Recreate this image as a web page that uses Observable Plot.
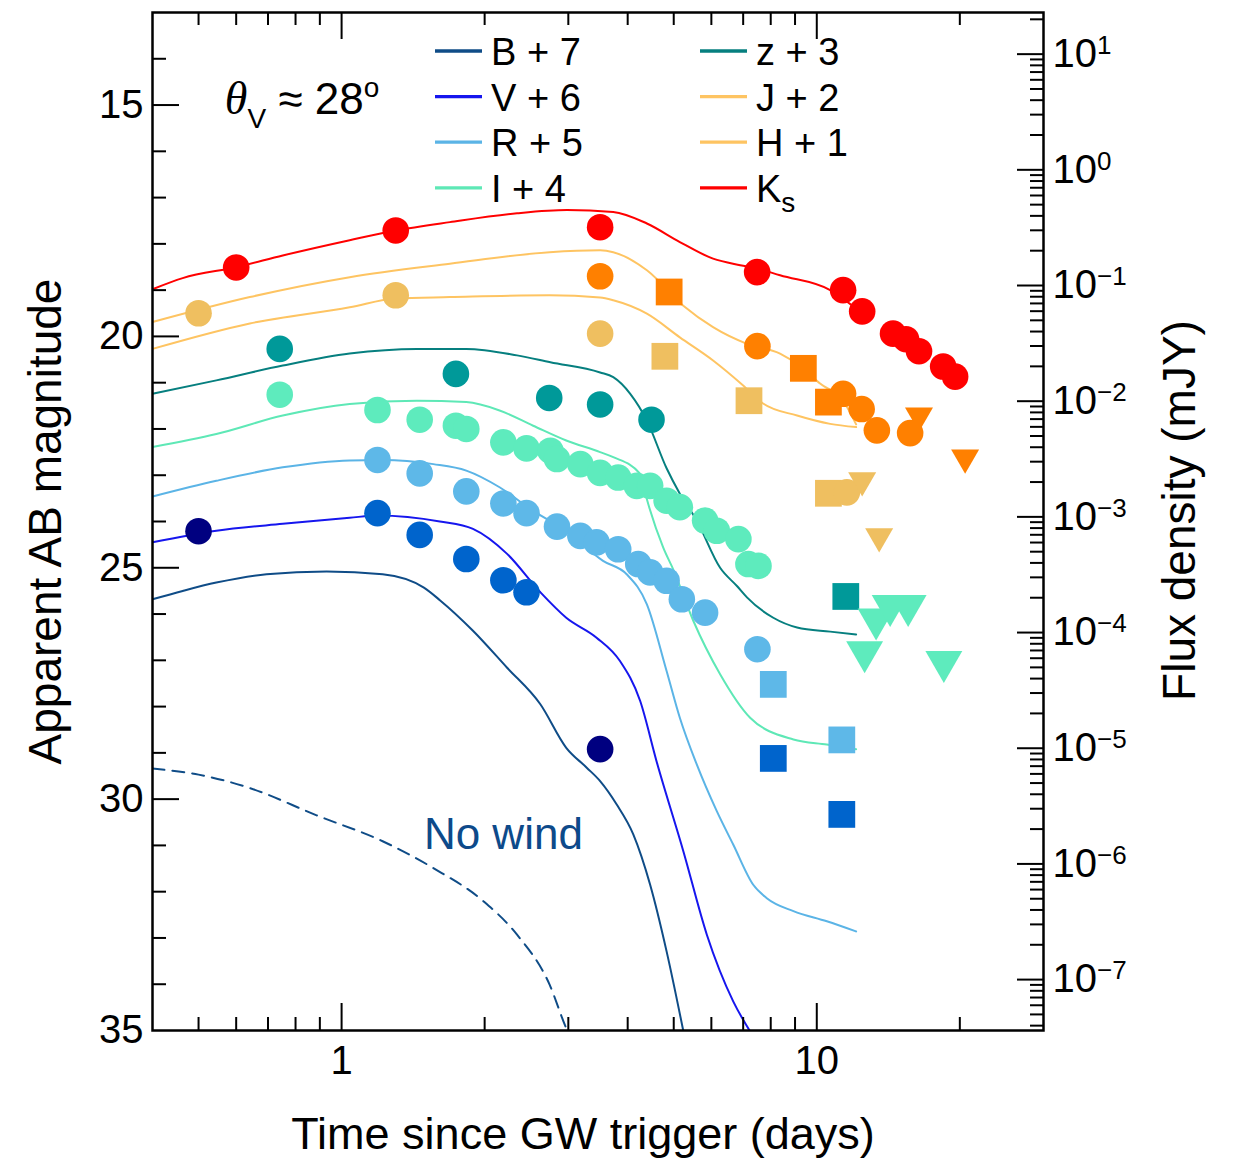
<!DOCTYPE html>
<html><head><meta charset="utf-8">
<script src="https://cdn.jsdelivr.net/npm/d3@7"></script>
<script src="https://cdn.jsdelivr.net/npm/@observablehq/plot@0.6"></script>
<style>
html,body{margin:0;padding:0;background:#fff;}
#chart{position:relative;width:1234px;height:1158px;}
</style></head><body><div id="chart"></div><script>
const SANS = '"Liberation Sans", Arial, Helvetica, sans-serif';

// ---------------- DATA ----------------
const xTickLabels = [1, 10];
const xMajorTicks = [1, 10];
const xMinorTicks = [0.5, 0.6, 0.7, 0.8, 0.9, 2, 3, 4, 5, 6, 7, 8, 9, 20];
const yTickLabels = [15, 20, 25, 30, 35];
const yMajorTicks = [15, 20, 25, 30];
const yMinorTicks = [14, 16, 17, 18, 19, 21, 22, 23, 24, 26, 27, 28, 29, 31, 32, 33, 34];
const fluxExponents = [1, 0, -1, -2, -3, -4, -5, -6, -7];
const fluxMinorMultipliers = [2, 3, 4, 5, 6, 7, 8, 9];
const AB_MAG_OF_1_MJY = 16.4;

const bandKeys = ["B", "V", "R", "I", "z", "J", "H", "Ks"];
const legendLabels = ["B + 7", "V + 6", "R + 5", "I + 4", "z + 3", "J + 2", "H + 1", "K_s"];

const xTitle = "Time since GW trigger (days)";
const yTitle = "Apparent AB magnitude";
const y2Title = "Flux density (mJY)";
const noWindLabel = [{t: 2.19, mag: 31.08, text: "No wind"}];
const thetaLabel = [{t: 0.568, mag: 15.2, text: "θ_V ≈ 28^o"}];

// model curves [days, mag]
const curveB = [[0.4,25.68],[0.463,25.50],[0.545,25.32],[0.695,25.14],[0.93,25.08],[1.22,25.14],[1.49,25.43],[1.61,25.70],[1.89,26.36],[2.23,27.16],[2.62,27.95],[2.97,28.89],[3.28,29.32],[3.5,29.61],[3.79,30.11],[4.11,30.76],[4.46,31.85],[4.83,33.29],[5.24,35.02]];
const curveV = [[0.4,24.45],[0.545,24.20],[0.752,24.05],[1.04,23.92],[1.19,23.87],[1.61,24.00],[1.89,24.16],[2.23,24.70],[2.62,25.53],[2.97,26.08],[3.44,26.51],[3.85,27.01],[4.25,27.88],[4.60,29.18],[5.24,31.13],[5.87,32.93],[6.67,34.37],[7.24,35.02]];
const curveR = [[0.4,23.46],[0.545,23.12],[0.752,22.83],[1.04,22.68],[1.22,22.67],[1.56,22.76],[1.83,22.90],[2.15,23.26],[2.53,23.77],[2.97,24.20],[3.55,24.85],[3.98,25.14],[4.39,25.79],[4.83,27.23],[5.15,28.24],[5.59,29.25],[6.16,30.26],[6.67,30.98],[7.35,31.85],[7.85,32.14],[8.93,32.42],[10.5,32.64],[12.1,32.86]];
const curveI = [[0.4,22.39],[0.545,22.11],[0.752,21.71],[1.04,21.46],[1.44,21.39],[1.83,21.42],[2.15,21.60],[2.53,21.93],[2.97,22.25],[3.5,22.50],[3.73,22.61],[4.25,22.97],[4.39,23.52],[4.75,24.56],[5.0,25.06],[5.50,26.15],[6.26,27.30],[7.24,28.24],[8.93,28.71],[10.5,28.82],[12.1,28.92]];
const curveZ = [[0.4,21.24],[0.545,20.95],[0.752,20.63],[1.04,20.37],[1.44,20.27],[1.83,20.27],[2.34,20.41],[2.75,20.56],[3.5,20.78],[3.73,20.88],[4.05,21.24],[4.39,21.82],[4.83,22.85],[5.15,23.40],[5.59,23.98],[6.26,25.00],[6.8,25.40],[7.13,25.64],[8.10,26.08],[9.09,26.29],[10.67,26.38],[12.1,26.44]];
const curveJ = [[0.4,20.27],[0.641,19.72],[1.04,19.37],[1.30,19.18],[1.69,19.15],[2.74,19.11],[3.5,19.16],[3.73,19.22],[4.39,19.51],[5.15,20.02],[6.05,20.52],[7.00,21.06],[7.71,21.45],[9.09,21.71],[10.67,21.89],[12.1,21.96]];
const curveH = [[0.4,19.69],[0.641,19.15],[1.04,18.72],[1.69,18.43],[2.74,18.18],[3.5,18.14],[3.73,18.18],[4.39,18.57],[5.23,19.33],[6.05,19.80],[7.13,20.16],[8.37,20.37],[9.37,20.69],[10.16,21.02],[11.36,21.39],[12.1,21.9]];
const curveKs = [[0.4,18.98],[0.463,18.74],[0.602,18.50],[0.752,18.25],[1.04,17.92],[1.30,17.71],[1.69,17.53],[2.34,17.34],[2.98,17.27],[3.73,17.31],[4.39,17.56],[5.15,17.96],[6.05,18.32],[6.90,18.46],[7.49,18.53],[8.37,18.68],[10.67,19.00],[12.1,19.40]];
const curveNoWind = [[0.4,29.34],[0.5,29.47],[0.641,29.76],[0.886,30.35],[1.22,30.91],[1.56,31.49],[1.99,32.21],[2.34,32.93],[2.74,34.01],[2.97,34.95],[3.0,35.05]];

// observations [days, mag, kind]  c = circle, s = square, t = upper limit (triangle)
const obsB = [[0.5,24.21,"c"],[3.5,28.92,"c"]];
const obsV = [[1.19,23.82,"c"],[1.46,24.29,"c"],[1.83,24.81,"c"],[2.19,25.27,"c"],[2.45,25.53,"c"],[8.10,29.12,"s"],[11.29,30.33,"s"]];
const obsR = [[1.19,22.67,"c"],[1.46,22.96,"c"],[1.83,23.35,"c"],[2.19,23.61,"c"],[2.45,23.82,"c"],[2.84,24.11,"c"],[3.18,24.31,"c"],[3.44,24.45,"c"],[3.82,24.60,"c"],[4.21,24.92,"c"],[4.46,25.10,"c"],[4.83,25.28,"c"],[5.20,25.68,"c"],[5.82,25.97,"c"],[7.50,26.76,"c"],[8.10,27.52,"s"],[11.29,28.72,"s"]];
const obsI = [[0.741,21.26,"c"],[1.19,21.59,"c"],[1.46,21.80,"c"],[1.74,21.93,"c"],[1.83,22.00,"c"],[2.19,22.29,"c"],[2.45,22.42,"c"],[2.75,22.47,"c"],[2.84,22.65,"c"],[3.18,22.76,"c"],[3.5,22.95,"c"],[3.82,23.05,"c"],[4.18,23.23,"c"],[4.46,23.23,"c"],[4.83,23.55,"c"],[5.15,23.69,"c"],[5.82,23.98,"c"],[6.16,24.20,"c"],[6.84,24.38,"c"],[7.18,24.92,"c"],[7.54,24.96,"c"],[12.61,26.82,"t"],[13.33,26.11,"t"],[14.27,25.82,"t"],[15.57,25.82,"t"],[18.51,27.03,"t"]];
const obsZ = [[0.741,20.27,"c"],[1.74,20.81,"c"],[2.735,21.33,"c"],[3.5,21.47,"c"],[4.49,21.80,"c"],[11.51,25.62,"s"]];
const obsJ = [[0.5,19.50,"c"],[1.30,19.11,"c"],[3.5,19.94,"c"],[4.79,20.43,"s"],[7.20,21.39,"s"],[10.58,23.39,"s"],[11.57,23.37,"c"],[12.46,23.11,"t"],[13.53,24.32,"t"]];
const obsH = [[3.5,18.70,"c"],[4.89,19.04,"s"],[7.50,20.21,"c"],[9.37,20.69,"s"],[10.58,21.42,"s"],[11.36,21.24,"c"],[12.43,21.57,"c"],[13.38,22.03,"c"],[15.72,22.09,"c"],[16.41,21.71,"t"],[20.52,22.62,"t"]];
const obsKs = [[0.6,18.51,"c"],[1.30,17.71,"c"],[3.5,17.64,"c"],[7.49,18.61,"c"],[11.36,19.00,"c"],[12.46,19.46,"c"],[14.47,19.94,"c"],[15.41,20.06,"c"],[16.41,20.32,"c"],[18.45,20.65,"c"],[19.55,20.87,"c"]];

// ---------------- STYLE ----------------
const lineColor = {B:"#0f4c87", V:"#1616ee", R:"#5bb4e6", I:"#5ee8b6", z:"#067f7f", J:"#fec462", H:"#fec462", Ks:"#ff0000", noWind:"#0f4c87"};
const dotColor = {B:"#000080", V:"#0064cc", R:"#5eb8e8", I:"#5eebbd", z:"#009999", J:"#efbf60", H:"#ff8000", Ks:"#ff0000"};
const triR = {I:13.7, J:10.4, H:10.4};
const curves = {B:curveB, V:curveV, R:curveR, I:curveI, z:curveZ, J:curveJ, H:curveH, Ks:curveKs};
const obs = {B:obsB, V:obsV, R:obsR, I:obsI, z:obsZ, J:obsJ, H:obsH, Ks:obsKs};

const M = {left:152, right:191, top:12, bottom:128};
const WIDTH = 1234, HEIGHT = 1158;
const FW = WIDTH - M.left - M.right, FH = HEIGHT - M.top - M.bottom;

const magOfFlux = (e, k = 1) => AB_MAG_OF_1_MJY - 2.5 * (e + Math.log10(k));
const fluxMajorMags = fluxExponents.map(e => magOfFlux(e));
const fluxMinorMags = [];
for (let e = 2; e >= -8; e--) for (const k of fluxMinorMultipliers) {
  const m = magOfFlux(e, k);
  if (m > 13 && m < 35) fluxMinorMags.push(m);
}

const marks = [];
marks.push(Plot.line(curveNoWind, {x: d => d[0], y: d => d[1], stroke: lineColor.noWind, strokeWidth: 2, strokeDasharray: "12,8", curve: "monotone-x", clip: true}));
for (const k of ["B","V","R","I","z","J","H","Ks"]) {
  marks.push(Plot.line(curves[k], {x: d => d[0], y: d => d[1], stroke: lineColor[k], strokeWidth: 2, curve: "monotone-x", clip: true}));
}
for (const k of ["Ks","H","J","z","I","R","V","B"]) {
  const data = obs[k];
  marks.push(Plot.dot(data.filter(d => d[2] === "s"), {x: d => d[0], y: d => d[1], symbol: "square", r: 15.1, fill: dotColor[k], stroke: "none"}));
  marks.push(Plot.dot(data.filter(d => d[2] === "c"), {x: d => d[0], y: d => d[1], symbol: "circle", r: 13.3, fill: dotColor[k], stroke: "none"}));
  marks.push(Plot.dot(data.filter(d => d[2] === "t"), {x: d => d[0], y: d => d[1], symbol: "triangle", rotate: 180, r: triR[k] || 12, fill: dotColor[k], stroke: "none"}));
}
marks.push(Plot.text(noWindLabel, {x: "t", y: "mag", text: "text", textAnchor: "middle", lineAnchor: "bottom", fontSize: 44, fill: "#0d4a8a"}));
marks.push(Plot.text(thetaLabel, {x: "t", y: "mag", text: "text", textAnchor: "start", lineAnchor: "bottom", fontSize: 44, fill: "#000"}));

const tk = {stroke: "#000", strokeWidth: 2};
marks.push(Plot.ruleY(yMajorTicks, {y: d => d, insetRight: FW - 27, ...tk}));
marks.push(Plot.ruleY(yMinorTicks, {y: d => d, insetRight: FW - 14, ...tk}));
marks.push(Plot.ruleY(fluxMajorMags, {y: d => d, insetLeft: FW - 26, ...tk}));
marks.push(Plot.ruleY(fluxMinorMags, {y: d => d, insetLeft: FW - 13, ...tk}));
marks.push(Plot.ruleX(xMajorTicks, {x: d => d, insetTop: FH - 27, ...tk}));
marks.push(Plot.ruleX(xMinorTicks, {x: d => d, insetTop: FH - 13, ...tk}));
marks.push(Plot.ruleX(xMajorTicks, {x: d => d, insetBottom: FH - 27, ...tk}));
marks.push(Plot.ruleX(xMinorTicks, {x: d => d, insetBottom: FH - 13, ...tk}));

marks.push(Plot.text(yTickLabels, {y: d => d, text: d => String(d), frameAnchor: "left", textAnchor: "end", dx: -9, fontSize: 40, fill: "#000"}));
marks.push(Plot.text(xTickLabels, {x: d => d, text: d => String(d), frameAnchor: "bottom", textAnchor: "middle", lineAnchor: "top", dy: 15, fontSize: 40, fill: "#000"}));
marks.push(Plot.text(fluxExponents, {y: e => magOfFlux(e), text: e => "10^" + e, frameAnchor: "right", textAnchor: "start", dx: 9, fontSize: 40, fill: "#000"}));

marks.push(Plot.text([yTitle], {text: d => d, frameAnchor: "left", textAnchor: "middle", dx: -106, rotate: -90, fontSize: 46, fill: "#000"}));
marks.push(Plot.text([y2Title], {text: d => d, frameAnchor: "right", textAnchor: "middle", dx: 137, dy: -11, rotate: -90, fontSize: 46, fill: "#000"}));
marks.push(Plot.text([xTitle], {text: d => d, frameAnchor: "bottom", textAnchor: "middle", lineAnchor: "bottom", dx: -15, dy: 118, fontSize: 45, fill: "#000"}));

marks.push(Plot.frame({stroke: "#000", strokeWidth: 2.5}));

const svg = Plot.plot({
  width: WIDTH, height: HEIGHT,
  marginLeft: M.left, marginRight: M.right, marginTop: M.top, marginBottom: M.bottom,
  style: {fontFamily: SANS, fontSize: "40px", background: "#fff", overflow: "visible"},
  x: {type: "log", domain: [0.4, 30], axis: null},
  y: {domain: [13, 35], reverse: true, axis: null},
  marks
});

const NS = "http://www.w3.org/2000/svg";
function rich(el, parts) {
  el.textContent = "";
  for (const p of parts) {
    const ts = document.createElementNS(NS, "tspan");
    ts.textContent = p.t;
    if (p.dy) ts.setAttribute("dy", p.dy);
    if (p.size) ts.setAttribute("font-size", p.size);
    if (p.italic) ts.setAttribute("font-style", "italic");
    if (p.family) ts.setAttribute("font-family", p.family);
    el.appendChild(ts);
  }
}
svg.querySelectorAll("text").forEach(el => {
  const s = el.textContent;
  let m;
  if ((m = s.match(/^10\^(-?\d+)$/))) {
    rich(el, [{t: "10"}, {t: m[1].replace("-", "\u2212"), size: 26, dy: -13}]);
  } else if (s === "θ_V ≈ 28^o") {
    rich(el, [
      {t: "θ", italic: true, family: '"Liberation Serif", "DejaVu Serif", serif', size: 46},
      {t: "V", size: 28, dy: 14},
      {t: " ≈ 28", dy: -14},
      {t: "o", size: 28, dy: -17}
    ]);
  }
});

const lg = d3.select(svg).append("g").attr("font-family", SANS).attr("font-size", 38)
  .attr("fill", "#000").attr("text-anchor", "start");
legendLabels.forEach((lab, i) => {
  const col = Math.floor(i / 4), row = i % 4;
  const x0 = 435 + col * 265, y = 51 + row * 45.6;
  lg.append("line").attr("x1", x0).attr("x2", x0 + 47).attr("y1", y).attr("y2", y)
    .attr("stroke", lineColor[bandKeys[i]]).attr("stroke-width", 3.3);
  const t = lg.append("text").attr("x", x0 + 56).attr("y", y + 14).attr("text-anchor", "start");
  const parts = lab.split("_");
  t.append("tspan").text(parts[0]);
  if (parts[1]) t.append("tspan").attr("font-size", 28).attr("dy", 10).text(parts[1]);
});

document.getElementById("chart").appendChild(svg);
</script></body></html>
